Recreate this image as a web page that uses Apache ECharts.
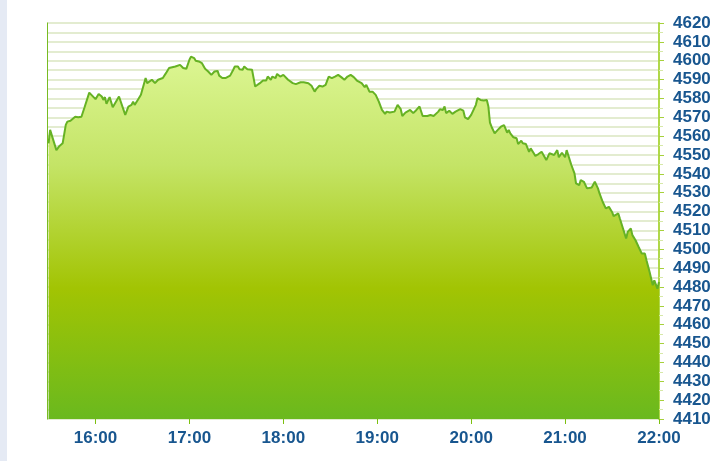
<!DOCTYPE html>
<html lang="en">
<head>
    <meta charset="UTF-8">
    <title>Intraday</title>
    <script src="https://cdn.jsdelivr.net/npm/echarts@6/dist/echarts.min.js"></script>
    <style>
        html, body { margin: 0; padding: 0; background: #fff; }
    </style>
</head>
<body>
<div id="main" style="width: 716px;height:461px;"></div>
<script type="text/javascript">
    // times of the quotes (HH:MM) and the index level at each
    var times = ['15:30','15:31','15:32','15:35','15:37','15:39','15:41','15:42','15:44','15:45','15:47','15:49','15:51','15:53','15:54','15:56','15:57',
        '16:00','16:02','16:04','16:05','16:06','16:07','16:09','16:11','16:15','16:19','16:21','16:23','16:24','16:25','16:27','16:29','16:32','16:33','16:36','16:38','16:40','16:43','16:45','16:47','16:51','16:54','16:56','16:58',
        '17:00','17:01','17:03','17:04','17:06','17:08','17:10','17:12','17:14','17:16','17:18','17:19','17:20','17:21','17:23','17:26','17:28','17:29','17:30','17:31','17:32','17:34','17:35','17:37','17:38','17:40','17:41','17:42','17:43','17:45','17:47','17:49','17:50','17:52','17:53','17:55','17:56','17:58',
        '18:00','18:01','18:03','18:04','18:06','18:08','18:09','18:11','18:13','18:16','18:18','18:20','18:21','18:23','18:25','18:27','18:29','18:31','18:33','18:35','18:37','18:39','18:41','18:43','18:45','18:47','18:50','18:52','18:53','18:55','18:57','18:59',
        '19:01','19:03','19:05','19:06','19:08','19:11','19:13','19:15','19:16','19:18','19:21','19:23','19:25','19:27','19:29','19:32','19:34','19:36','19:39','19:40','19:42','19:43','19:44','19:46','19:48','19:50','19:51','19:53','19:55','19:56','19:58',
        '20:00','20:01','20:03','20:04','20:06','20:08','20:10','20:11','20:12','20:13','20:15','20:17','20:19','20:21','20:23','20:24','20:25','20:27','20:29','20:30','20:32','20:33','20:35','20:37','20:38','20:40','20:41','20:43','20:45','20:46','20:48','20:50','20:51','20:53','20:55','20:56','20:58',
        '21:00','21:01','21:02','21:04','21:06','21:07','21:09','21:10','21:12','21:14','21:17','21:19','21:21','21:22','21:24','21:26','21:28','21:30','21:31','21:34','21:35','21:37','21:39','21:40','21:42','21:43','21:45','21:47','21:49','21:51','21:52','21:54','21:56','21:57','21:58','21:59','22:00'];
    var values = [4556.2,4563.3,4562.4,4552.6,4554.8,4556.2,4566.0,4567.7,4568.2,4567.2,4570.3,4570.0,4570.3,4575.3,4576.0,4583.1,4583.6,
        4579.6,4582.4,4581.0,4579.2,4580.7,4577.1,4580.7,4575.3,4581.0,4571.3,4575.7,4576.6,4578.3,4576.6,4579.2,4581.9,4590.8,4588.1,4589.9,4588.1,4589.9,4590.8,4593.4,4596.1,4596.9,4597.8,4596.1,4595.7,
        4600.5,4602.2,4601.4,4600.0,4599.6,4598.7,4595.7,4594.3,4592.5,4594.3,4594.6,4592.1,4592.5,4590.8,4590.8,4592.1,4595.2,4596.9,4596.1,4596.9,4595.5,4595.2,4596.9,4595.5,4596.1,4595.2,4590.8,4586.3,4586.0,4588.1,4589.5,4589.5,4591.6,4589.9,4591.6,4590.8,4593.0,4591.6,
        4592.5,4592.0,4589.9,4589.0,4588.1,4587.6,4588.1,4588.6,4588.6,4588.1,4586.7,4583.6,4584.9,4586.7,4586.3,4587.2,4591.6,4590.8,4591.6,4592.5,4591.3,4589.9,4591.6,4592.5,4591.3,4589.5,4588.1,4586.0,4587.2,4583.6,4583.6,4581.9,
        4578.3,4573.9,4571.8,4573.0,4572.5,4573.0,4576.6,4574.3,4570.7,4572.5,4573.9,4572.2,4573.9,4575.7,4570.7,4570.7,4571.2,4570.7,4573.0,4574.3,4573.9,4575.7,4572.2,4573.5,4571.8,4573.0,4572.5,4574.3,4573.5,4570.0,4569.0,
        4571.3,4571.8,4576.6,4580.1,4579.2,4578.9,4579.2,4575.7,4567.2,4565.0,4561.5,4563.3,4565.0,4565.9,4561.8,4563.3,4561.5,4559.4,4558.9,4555.8,4557.6,4556.2,4555.8,4551.7,4553.5,4550.9,4549.5,4550.5,4551.7,4550.9,4547.3,4550.9,4550.0,4550.0,4552.6,4548.8,4551.2,
        4548.8,4552.6,4552.3,4544.7,4540.3,4534.9,4534.0,4536.7,4535.8,4532.3,4532.8,4535.8,4532.3,4529.6,4525.2,4521.7,4522.5,4519.8,4517.6,4519.0,4516.3,4511.0,4505.7,4509.2,4511.0,4507.5,4504.8,4501.2,4497.7,4497.7,4494.2,4487.9,4480.9,4483.5,4484.4,4479.1,4482.6];
    // x tick labels
    var hourLabels = ['16:00','17:00','18:00','19:00','20:00','21:00','22:00'];
    var yMin = 4410, yMax = 4620, yStep = 10;

    function toMin(s) {
        var p = s.split(':');
        return +p[0] * 60 + +p[1];
    }
    function toHHMM(m) {
        var h = Math.floor(m / 60), mm = m % 60;
        return (h < 10 ? '0' : '') + h + ':' + (mm < 10 ? '0' : '') + mm;
    }

    var seriesData = times.map(function (t, i) { return [toMin(t), values[i]]; });
    var hourMins = hourLabels.map(toMin);

    var labelFont = {
        color: '#18568f',
        fontFamily: 'Arial, "Liberation Sans", sans-serif',
        fontWeight: 'bold',
        fontSize: 17
    };

    var myChart = echarts.init(document.getElementById('main'));
    myChart.setOption({
        animation: false,
        backgroundColor: '#ffffff',
        graphic: [{
            type: 'rect',
            left: 0, top: 0,
            shape: { width: 7, height: 461 },
            style: { fill: '#e5eaf4' },
            silent: true
        }],
        grid: { left: 47, right: 57, top: 23, bottom: 42 },
        xAxis: {
            type: 'value',
            min: toMin('15:29'),
            max: toMin('22:00'),
            axisLine: { show: false },
            axisTick: {
                show: true,
                length: 5,
                customValues: hourMins,
                lineStyle: { color: '#7cc010', width: 1 }
            },
            axisLabel: Object.assign({
                margin: 11,
                customValues: hourMins,
                formatter: function (v) { return toHHMM(v); }
            }, labelFont),
            splitLine: { show: false }
        },
        yAxis: [{
            type: 'value',
            position: 'right',
            min: yMin,
            max: yMax,
            interval: yStep,
            axisLine: { show: true, lineStyle: { color: '#b0d84a', width: 2 } },
            axisTick: { show: true, length: 5, lineStyle: { color: '#a6d13a', width: 1 } },
            minorTick: { show: true, splitNumber: 2, length: 4, lineStyle: { color: '#d6e8a8' } },
            axisLabel: Object.assign({
                margin: 14,
                formatter: function (v) { return String(v); }
            }, labelFont),
            splitLine: { show: true, lineStyle: { color: '#e3ecd0', width: 2 } },
            minorSplitLine: { show: true, lineStyle: { color: '#e3ecd0', width: 2 } }
        }, {
            type: 'value',
            position: 'left',
            min: yMin,
            max: yMax,
            axisLine: { show: true, lineStyle: { color: '#78bc22', width: 1 } },
            axisTick: { show: false },
            axisLabel: { show: false },
            splitLine: { show: false }
        }],
        series: [{
            type: 'line',
            data: seriesData,
            showSymbol: false,
            lineStyle: { color: '#66b224', width: 2 },
            areaStyle: {
                origin: 'start',
                opacity: 1,
                color: new echarts.graphic.LinearGradient(0, 0, 0, 1, [
                    { offset: 0, color: '#dcf693' },
                    { offset: 0.3, color: '#c4e466' },
                    { offset: 0.64, color: '#a2c403' },
                    { offset: 1, color: '#6ab91e' }
                ])
            }
        }]
    });
</script>
</body>
</html>
